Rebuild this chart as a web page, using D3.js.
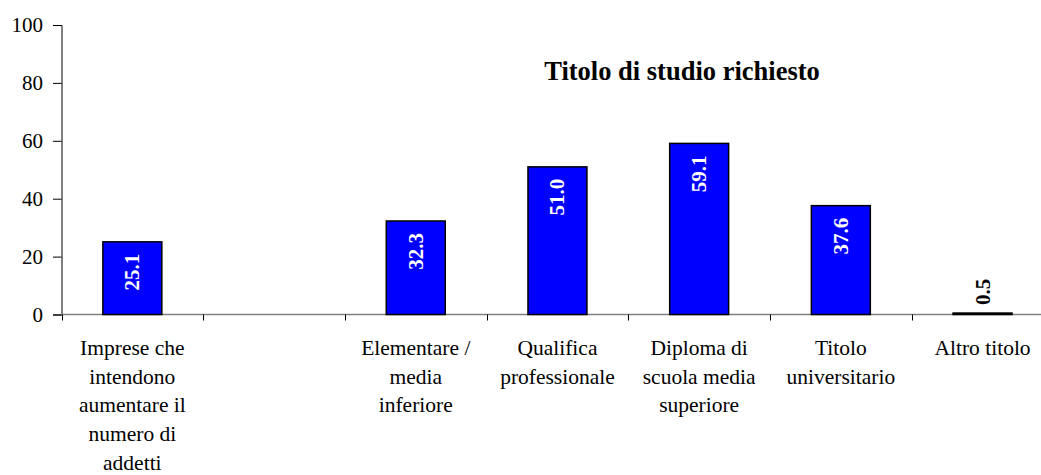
<!DOCTYPE html>
<html>
<head>
<meta charset="utf-8">
<script src="https://cdn.jsdelivr.net/npm/d3@7"></script>
<style>
  body { margin: 0; background: #fff; }
  svg { display: block; font-family: "Liberation Serif", "Times New Roman", serif; }
</style>
</head>
<body>
<svg id="chart" width="1041" height="475"></svg>
<script>
// Categories (an empty slot separates the first bar from the education levels)
const categories = [
  "Imprese che intendono aumentare il numero di addetti",
  "",
  "Elementare / media inferiore",
  "Qualifica professionale",
  "Diploma di scuola media superiore",
  "Titolo universitario",
  "Altro titolo"
];
const categoryLines = [
  ["Imprese che", "intendono", "aumentare il", "numero di", "addetti"],
  [],
  ["Elementare /", "media", "inferiore"],
  ["Qualifica", "professionale"],
  ["Diploma di", "scuola media", "superiore"],
  ["Titolo", "universitario"],
  ["Altro titolo"]
];
const values = [25.1, null, 32.3, 51.0, 59.1, 37.6, 0.5];
const yTicks = [0, 20, 40, 60, 80, 100];
const chartTitle = "Titolo di studio richiesto";

const svg = d3.select("#chart");
const plotLeft = 61.5, plotTop = 25, plotBottom = 314.5;
const bandW = 141.7;

const x = d3.scaleBand()
  .domain(d3.range(categories.length))
  .range([plotLeft, plotLeft + bandW * categories.length])
  .paddingInner(0.584)
  .paddingOuter(0.292);

const y = d3.scaleLinear().domain([0, 100]).range([plotBottom, plotTop]);

// Y axis
const yAxis = svg.append("g")
  .attr("transform", `translate(${plotLeft},0)`)
  .call(d3.axisLeft(y).tickValues(yTicks).tickSize(8.5).tickPadding(10).tickFormat(d3.format("d")));
yAxis.selectAll("path, line").attr("stroke", "#000").attr("stroke-width", 1);
yAxis.selectAll("text")
  .attr("font-size", 21)
  .attr("font-family", "Liberation Serif, serif")
  .attr("fill", "#000");

// X axis line (gray) with black category-boundary ticks
svg.append("line")
  .attr("x1", plotLeft).attr("x2", 1041)
  .attr("y1", plotBottom).attr("y2", plotBottom)
  .attr("stroke", "#808080").attr("stroke-width", 1.5);

const boundaries = d3.range(categories.length + 1).map(i => plotLeft + i * bandW);
svg.selectAll(".xtick").data(boundaries).join("line")
  .attr("class", "xtick")
  .attr("x1", d => Math.round(d) + 0.5).attr("x2", d => Math.round(d) + 0.5)
  .attr("y1", plotBottom).attr("y2", plotBottom + 6)
  .attr("stroke", "#000").attr("stroke-width", 1);

// Bars
const data = values.map((v, i) => ({ i, v })).filter(d => d.v !== null);
svg.selectAll(".bar").data(data).join("rect")
  .attr("class", "bar")
  .attr("x", d => x(d.i))
  .attr("y", d => y(d.v))
  .attr("width", x.bandwidth())
  .attr("height", d => plotBottom - y(d.v))
  .attr("fill", "#0000FF")
  .attr("stroke", "#000")
  .attr("stroke-width", 1.5);

// Value labels, rotated
svg.selectAll(".val").data(data).join("text")
  .attr("class", "val")
  .attr("transform", d => {
    const cx = x(d.i) + x.bandwidth() / 2;
    const inside = d.v > 5;
    const yy = inside ? y(d.v) + 12 : y(d.v) - 8;
    return `translate(${cx},${yy}) rotate(-90)`;
  })
  .attr("text-anchor", d => d.v > 5 ? "end" : "start")
  .attr("dominant-baseline", "central")
  .attr("font-size", 21)
  .attr("font-weight", "bold")
  .attr("fill", d => d.v > 5 ? "#fff" : "#000")
  .text(d => d.v.toFixed(1));

// Category labels
const lab = svg.selectAll(".xlab").data(categoryLines.map((l, i) => ({ l, i }))).join("text")
  .attr("class", "xlab")
  .attr("text-anchor", "middle")
  .attr("font-size", 21.5)
  .attr("fill", "#000");
lab.selectAll("tspan").data(d => d.l.map(t => ({ t, i: d.i }))).join("tspan")
  .attr("x", d => x(d.i) + x.bandwidth() / 2)
  .attr("y", (d, k) => 355 + k * 28.7)
  .text(d => d.t);

// Title
svg.append("text")
  .attr("x", 682).attr("y", 80)
  .attr("text-anchor", "middle")
  .attr("font-size", 26.5)
  .attr("font-weight", "bold")
  .text(chartTitle);
</script>
</body>
</html>
